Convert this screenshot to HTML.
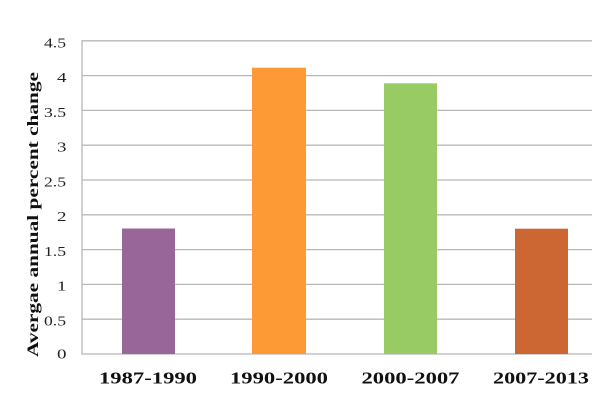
<!DOCTYPE html>
<html><head><meta charset="utf-8"><style>
html,body{margin:0;padding:0;background:#fff;}
svg{display:block;}
text{font-family:"Liberation Serif","DejaVu Serif",serif;}
</style></head><body>
<svg width="600" height="400" viewBox="0 0 600 400" xmlns="http://www.w3.org/2000/svg">
<rect width="600" height="400" fill="#fff"/>
<g stroke="#b8b8b8" stroke-width="1.3">
<line x1="82" y1="40.8" x2="592" y2="40.8"/>
<line x1="82" y1="75.6" x2="592" y2="75.6"/>
<line x1="82" y1="110.4" x2="592" y2="110.4"/>
<line x1="82" y1="145.2" x2="592" y2="145.2"/>
<line x1="82" y1="180" x2="592" y2="180"/>
<line x1="82" y1="214.8" x2="592" y2="214.8"/>
<line x1="82" y1="249.6" x2="592" y2="249.6"/>
<line x1="82" y1="284.4" x2="592" y2="284.4"/>
<line x1="82" y1="319.2" x2="592" y2="319.2"/>
<line x1="82" y1="354" x2="592" y2="354"/>
<line x1="82" y1="40.2" x2="82" y2="354.6"/>
</g>
<rect x="122" y="228.5" width="53" height="125.5" fill="#996699"/>
<rect x="252" y="67.7" width="54" height="286.3" fill="#fd9a35"/>
<rect x="384" y="83.3" width="53" height="270.7" fill="#99cb65"/>
<rect x="515" y="228.7" width="53" height="125.3" fill="#cc6633"/>
<g font-size="14" fill="#222">
<text x="44" y="47.5" textLength="22" lengthAdjust="spacingAndGlyphs">4.5</text>
<text x="57" y="82" textLength="9.5" lengthAdjust="spacingAndGlyphs">4</text>
<text x="44" y="117" textLength="22" lengthAdjust="spacingAndGlyphs">3.5</text>
<text x="57" y="151.5" textLength="9.5" lengthAdjust="spacingAndGlyphs">3</text>
<text x="44" y="186.5" textLength="22" lengthAdjust="spacingAndGlyphs">2.5</text>
<text x="57" y="221" textLength="9.5" lengthAdjust="spacingAndGlyphs">2</text>
<text x="44" y="256" textLength="22" lengthAdjust="spacingAndGlyphs">1.5</text>
<text x="57" y="290.5" textLength="9.5" lengthAdjust="spacingAndGlyphs">1</text>
<text x="44" y="325.5" textLength="22" lengthAdjust="spacingAndGlyphs">0.5</text>
<text x="57" y="358.5" textLength="9.5" lengthAdjust="spacingAndGlyphs">0</text>
</g>
<g font-size="17" font-weight="bold" fill="#111">
<text x="99" y="383.5" textLength="98" lengthAdjust="spacingAndGlyphs">1987-1990</text>
<text x="230" y="383.5" textLength="98" lengthAdjust="spacingAndGlyphs">1990-2000</text>
<text x="361.5" y="383.5" textLength="98" lengthAdjust="spacingAndGlyphs">2000-2007</text>
<text x="493" y="383.5" textLength="96" lengthAdjust="spacingAndGlyphs">2007-2013</text>
</g>
<text transform="translate(38,357) rotate(-90)" font-size="16" font-weight="bold" fill="#111" textLength="285" lengthAdjust="spacingAndGlyphs">Avergae annual percent change</text>
</svg>
</body></html>
